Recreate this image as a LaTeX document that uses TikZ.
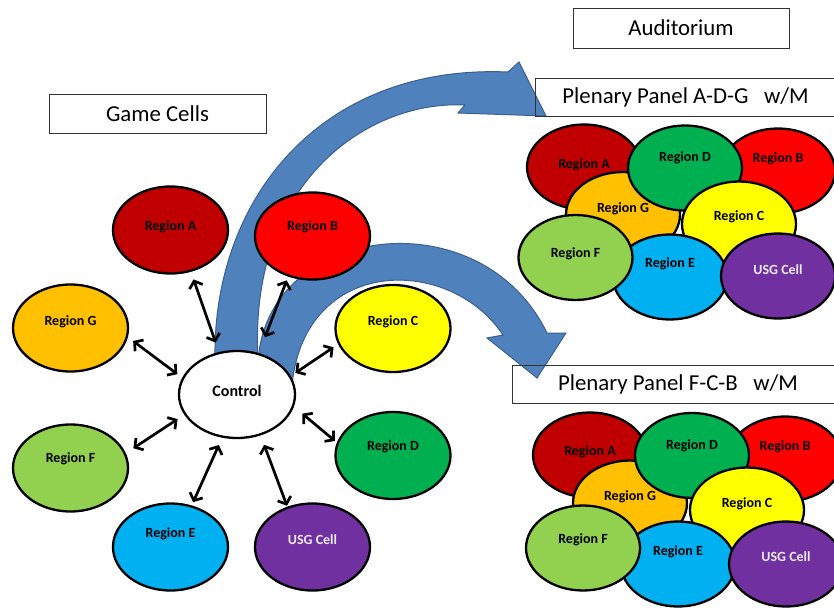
\documentclass[tikz,border=0pt]{standalone}
\usepackage{fontspec}
\setmainfont{Carlito}
\usepackage{tikz}
\usetikzlibrary{shapes.geometric,arrows.meta}
\definecolor{regA}{HTML}{C00000}
\definecolor{regB}{HTML}{FF0000}
\definecolor{regC}{HTML}{FFFF00}
\definecolor{regD}{HTML}{00B050}
\definecolor{regE}{HTML}{00B0F0}
\definecolor{regF}{HTML}{92D050}
\definecolor{regG}{HTML}{FFC000}
\definecolor{usg}{HTML}{7030A0}
\definecolor{arrowblue}{HTML}{4F81BD}
\definecolor{arrowedge}{HTML}{3A5F8E}

\begin{document}
\begin{tikzpicture}[x=1pt, y=-1pt,
	region/.style={ellipse, draw=black, line width=2.3pt, minimum width=115pt, minimum height=87pt, inner sep=0pt, text height=9pt, font=\bfseries\fontsize{14}{16}\selectfont},
	cell/.style={region, minimum width=114pt, minimum height=85pt},
	titlebox/.style={draw=black!80, line width=0.9pt, inner sep=0pt, font=\fontsize{22.8}{26}\selectfont},
	bigarrow/.style={fill=arrowblue, draw=arrowedge, line width=1pt, line join=miter},
	link/.style={{Straight Barb[length=6pt,width=14pt]}-{Straight Barb[length=6pt,width=14pt]}, line width=2.7pt}]
			\useasboundingbox (0,0) rectangle (834,607);
			\clip (0,0) rectangle (834,607);
			% curved arrows to the auditorium
			\draw[bigarrow] (215,360) .. controls (212,200) and (320,64) .. (508,72) -- (519,62) -- (546,116) -- (458,113) -- (465,105) .. controls (370,100) and (248,180) .. (258,360) -- cycle;
			\draw[bigarrow] (258,365) .. controls (262,225) and (480,195) .. (547,333) -- (566,333) -- (537,378) -- (487,338) -- (503,335) .. controls (450,255) and (305,255) .. (292,385) -- cycle;
			\node[titlebox, minimum width=217pt, minimum height=39pt] (game) at (157.5,113.5) {Game Cells};
			\node[titlebox, minimum width=216pt, minimum height=40pt] (aud) at (681,28) {Auditorium};
			\node[titlebox, minimum width=301pt, minimum height=38pt] (panelADG) at (685.5,97) {Plenary Panel A-D-G\ \ \ w/M};
			\node[titlebox, minimum width=332pt, minimum height=38pt] (panelFCB) at (678,384) {Plenary Panel F-C-B\ \ \ w/M};
			% game cells
			\node[region, fill=regA, text depth=9pt] (rA) at (170.5,230) {Region A};
			\node[region, fill=regB, text depth=20pt] (rB) at (312.5,236) {Region B};
			\node[region, fill=regG, text depth=14pt] (rG) at (70.5,328) {Region G};
			\node[region, fill=regC, text depth=16pt] (rC) at (393,328.5) {Region C};
			\node[region, fill=white, minimum width=116pt, text height=10pt, text depth=7pt, font=\bfseries\fontsize{16}{18}\selectfont] (ctrl) at (237,394.5) {Control};
			\node[region, fill=regF, text depth=20pt] (rF) at (70.5,468) {Region F};
			\node[region, fill=regD, text depth=20pt] (rD) at (393,455.5) {Region D};
			\node[region, fill=regE, text depth=28pt] (rE) at (170.5,547) {Region E};
			\node[region, fill=usg, text=white!92!black, text depth=14pt] (rU) at (312.5,547) {USG Cell};
			\draw[link, shorten <=8pt, shorten >=10pt] (rA.-64) -- (ctrl.113);
			\draw[link, shorten <=4pt, shorten >=17pt] (rB.239) -- (ctrl.62);
			\draw[link, shorten <=6.5pt, shorten >=6pt] (rG.-9) -- (ctrl.163);
			\draw[link, shorten <=5.5pt, shorten >=5.5pt] (rC.196) -- (ctrl.19);
			\draw[link, shorten <=9pt, shorten >=8pt] (rF.15) -- (ctrl.201);
			\draw[link, shorten <=2.5pt, shorten >=11pt] (rD.167.5) -- (ctrl.-12);
			\draw[link, shorten <=3.5pt, shorten >=8pt] (rE.63) -- (ctrl.251);
			\draw[link, shorten <=1pt, shorten >=10pt] (rU.122) -- (ctrl.-60);
			% plenary panel A-D-G
			\node[cell, fill=regA, text depth=7pt] (p1A) at (584,167) {Region A};
			\node[cell, fill=regB, text depth=26pt] (p1B) at (778,171) {Region B};
			\node[cell, fill=regG, text depth=13pt] (p1G) at (623,214.5) {Region G};
			\node[cell, fill=regD, text depth=22pt] (p1D) at (685,168) {Region D};
			\node[cell, fill=regC, text depth=16pt] (p1C) at (739,224) {Region C};
			\node[cell, fill=regE, text depth=28pt] (p1E) at (670,277) {Region E};
			\node[cell, fill=regF, text depth=10pt] (p1F) at (575.5,257.5) {Region F};
			\node[cell, fill=usg, text=white!92!black, text depth=12pt] (p1U) at (778,276) {USG Cell};
			% plenary panel F-C-B
			\node[cell, fill=regA, text depth=8pt] (p2A) at (590,455) {Region A};
			\node[cell, fill=regB, text depth=26pt] (p2B) at (785,459) {Region B};
			\node[cell, fill=regG, text depth=14pt] (p2G) at (630,503) {Region G};
			\node[cell, fill=regD, text depth=22pt] (p2D) at (692,455.5) {Region D};
			\node[cell, fill=regC, text depth=14pt] (p2C) at (747,510) {Region C};
			\node[cell, fill=regE, text depth=26pt] (p2E) at (678,564) {Region E};
			\node[cell, fill=regF, text depth=18pt] (p2F) at (583,548) {Region F};
			\node[cell, fill=usg, text=white!92!black, text depth=14pt] (p2U) at (786,564) {USG Cell};
		\end{tikzpicture}
\end{document}
